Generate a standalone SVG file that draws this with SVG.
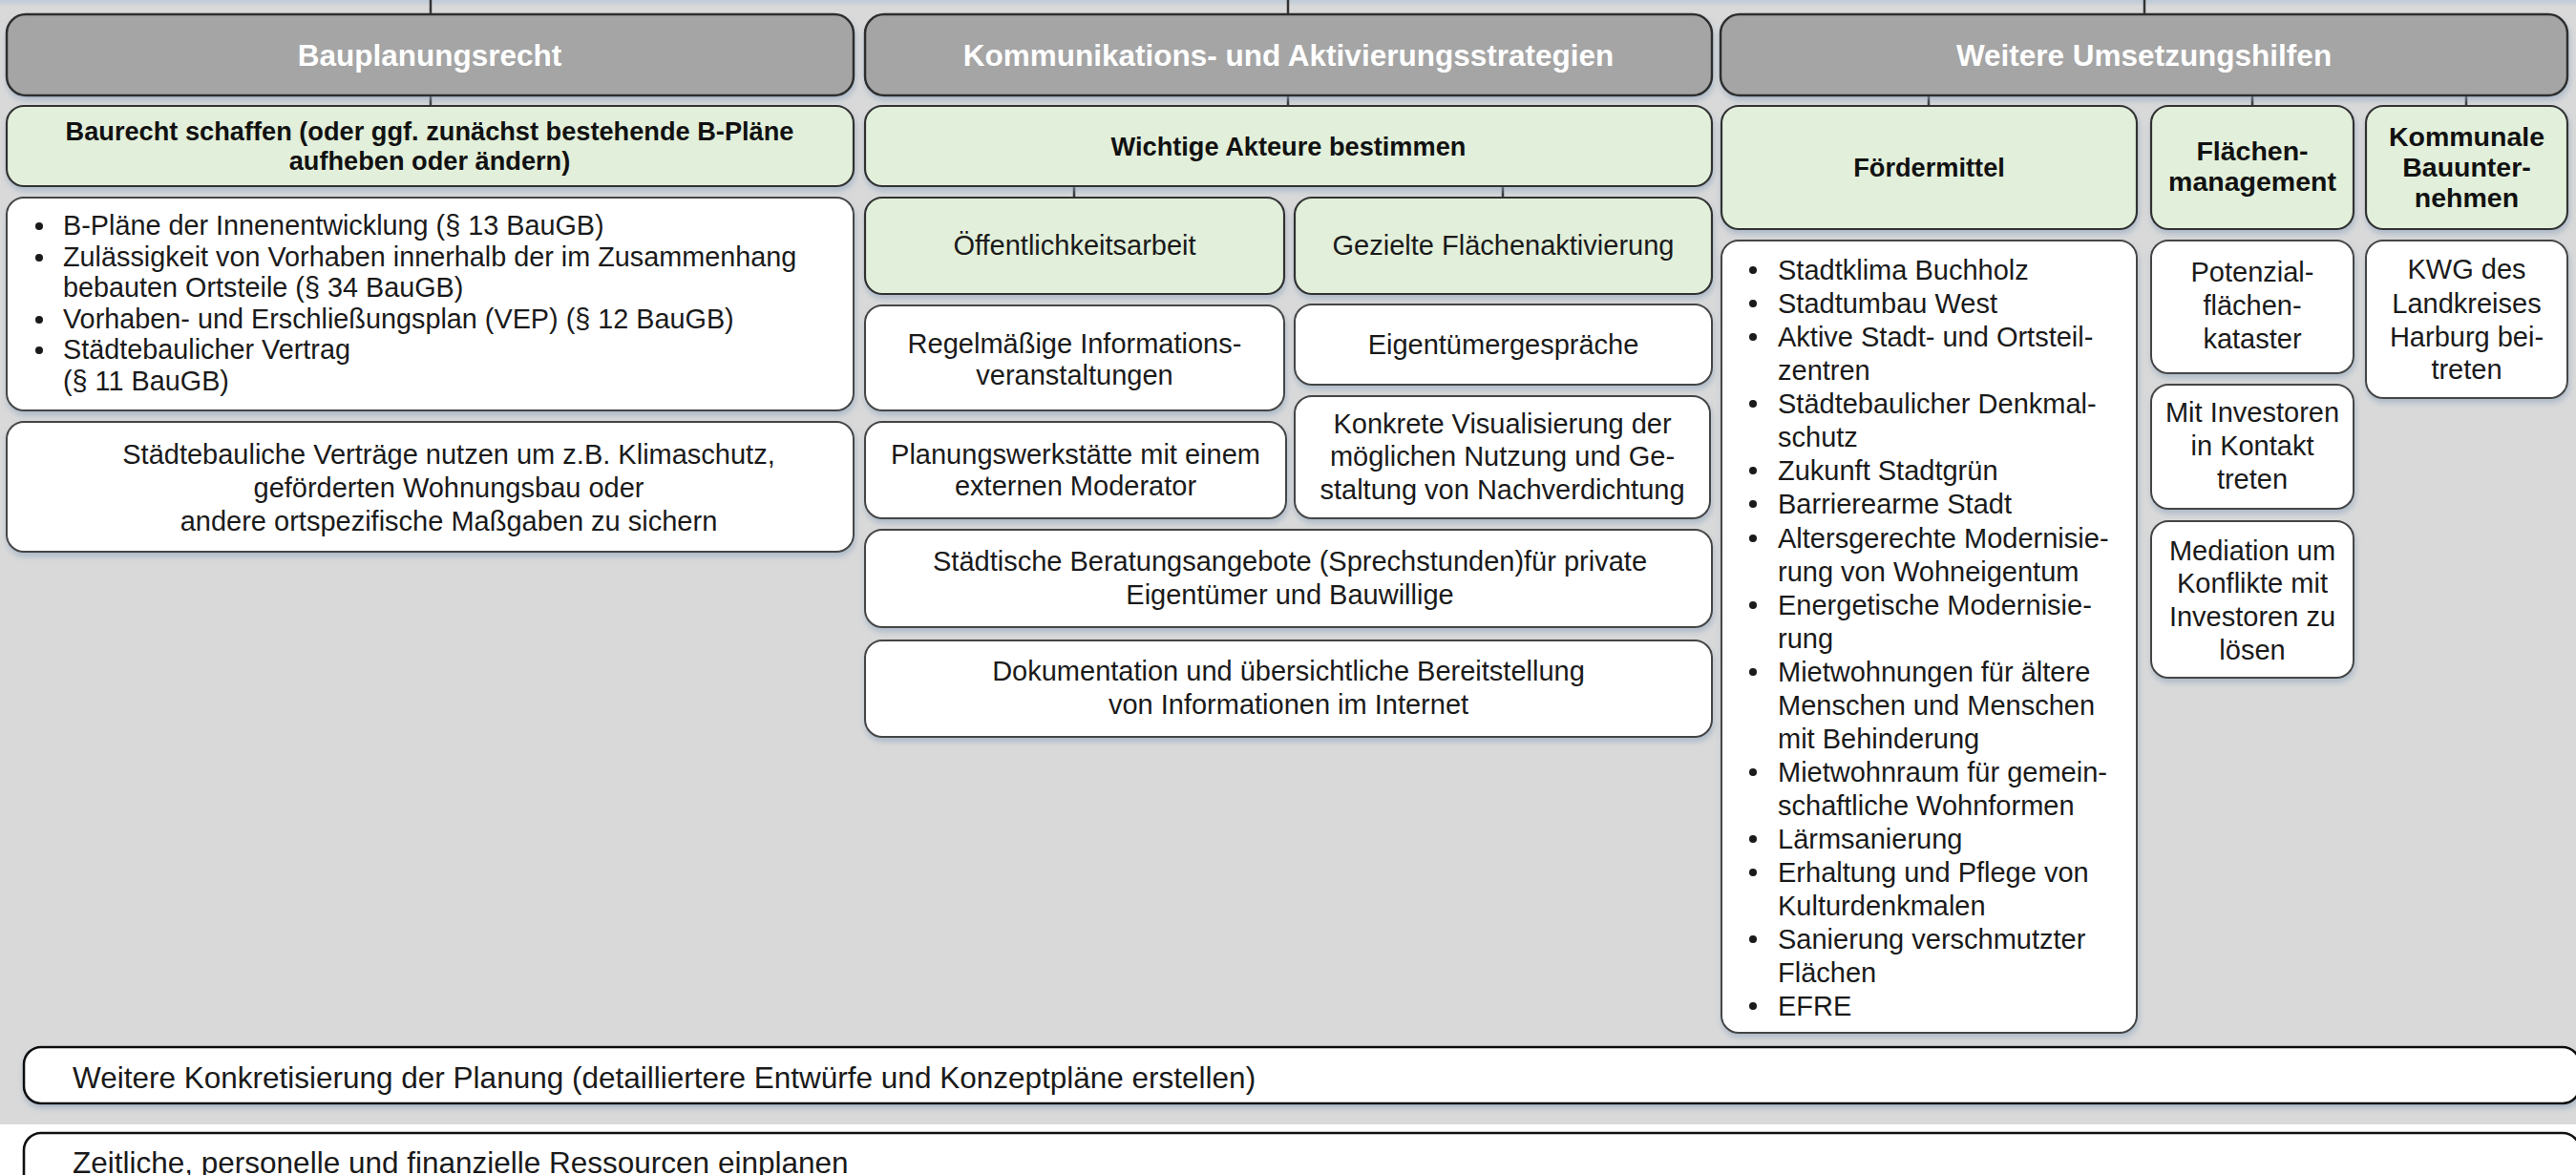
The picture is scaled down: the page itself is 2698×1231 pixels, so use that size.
<svg xmlns="http://www.w3.org/2000/svg" width="2698" height="1231" viewBox="0 0 2698 1231">
<defs>
<filter id="sh" x="-5%" y="-10%" width="110%" height="130%">
<feDropShadow dx="1" dy="4" stdDeviation="3" flood-color="#8ea4bd" flood-opacity="0.6"/>
</filter>
<linearGradient id="topg" x1="0" y1="0" x2="0" y2="1">
<stop offset="0" stop-color="#bccad8"/>
<stop offset="1" stop-color="#d9d9d9"/>
</linearGradient>
<style>
.hdr{fill:#a5a5a5;stroke:#2e2e2e;stroke-width:2.5;filter:url(#sh)}
.grn{fill:#e2efda;stroke:#333;stroke-width:2.2;filter:url(#sh)}
.wht{fill:#fff;stroke:#444;stroke-width:2;filter:url(#sh)}
.blk{fill:#fff;stroke:#111;stroke-width:2.6;filter:url(#sh)}
text{font-family:"Liberation Sans",Arial,sans-serif}
.ht{font-size:31.5px;font-weight:bold;fill:#fff;text-anchor:middle}
.gt{font-size:27.2px;font-weight:bold;fill:#111;text-anchor:middle}
.gm{font-size:28.5px}
.bt{font-size:29px;fill:#1a1a1a}
.bs{font-size:28.8px;fill:#1a1a1a}
.c{text-anchor:middle}
.lt{font-size:31.5px;fill:#1a1a1a}
.con{stroke:#333;stroke-width:2.5;fill:none}
.dot{fill:#1a1a1a}
</style>
</defs>
<rect x="0" y="0" width="2698" height="1178" fill="#d9d9d9"/>
<rect x="0" y="0" width="2698" height="7" fill="url(#topg)"/>
<rect x="0" y="1178" width="2698" height="53" fill="#fff"/>

<g id="connectors">
<path class="con" d="M451 0V15M1349 0V15M2246 0V15"/>
<path class="con" d="M451 100V111M1349 100V111M1125 195V207M1574 195V207M2020 100V111M2359 100V111M2583 100V111"/>
</g>

<g id="h-bauplanungsrecht">
<rect class="hdr" x="7" y="15" width="887" height="85" rx="20"/>
<text class="ht" x="450" y="69">Bauplanungsrecht</text>
</g>
<g id="h-kommunikation">
<rect class="hdr" x="906" y="15" width="887" height="85" rx="20"/>
<text class="ht" x="1349.5" y="69">Kommunikations- und Aktivierungsstrategien</text>
</g>
<g id="h-umsetzungshilfen">
<rect class="hdr" x="1802" y="15" width="887" height="85" rx="20"/>
<text class="ht" x="2245.5" y="69">Weitere Umsetzungshilfen</text>
</g>

<g id="g-baurecht">
<rect class="grn" x="7" y="111" width="887" height="84" rx="18"/>
<text class="gt" x="450" y="147">Baurecht schaffen (oder ggf. zunächst bestehende B-Pläne</text>
<text class="gt" x="450" y="178">aufheben oder ändern)</text>
</g>
<g id="w-bauplan-list">
<rect class="wht" x="7" y="207" width="887" height="223" rx="18"/>
<circle class="dot" cx="41" cy="237" r="4"/>
<circle class="dot" cx="41" cy="270" r="4"/>
<circle class="dot" cx="41" cy="335" r="4"/>
<circle class="dot" cx="41" cy="367" r="4"/>
<text class="bs" x="66" y="246">B-Pläne der Innenentwicklung (§ 13 BauGB)</text>
<text class="bs" x="66" y="279">Zulässigkeit von Vorhaben innerhalb der im Zusammenhang</text>
<text class="bs" x="66" y="311">bebauten Ortsteile (§ 34 BauGB)</text>
<text class="bs" x="66" y="344">Vorhaben- und Erschließungsplan (VEP) (§ 12 BauGB)</text>
<text class="bs" x="66" y="376">Städtebaulicher Vertrag</text>
<text class="bs" x="66" y="409">(§ 11 BauGB)</text>
</g>
<g id="w-vertraege">
<rect class="wht" x="7" y="442" width="887" height="136" rx="18"/>
<text class="bt c" x="470" y="486">Städtebauliche Verträge nutzen um z.B. Klimaschutz,</text>
<text class="bt c" x="470" y="521">geförderten Wohnungsbau oder</text>
<text class="bt c" x="470" y="556">andere ortspezifische Maßgaben zu sichern</text>
</g>

<g id="g-akteure">
<rect class="grn" x="906" y="111" width="887" height="84" rx="18"/>
<text class="gt" x="1349.5" y="163">Wichtige Akteure bestimmen</text>
</g>
<g id="g-oeffentlichkeit">
<rect class="grn" x="906" y="207" width="439" height="101" rx="18"/>
<text class="bt c" x="1125.5" y="267">Öffentlichkeitsarbeit</text>
</g>
<g id="g-flaechenaktivierung">
<rect class="grn" x="1356" y="207" width="437" height="101" rx="18"/>
<text class="bt c" x="1574.5" y="267">Gezielte Flächenaktivierung</text>
</g>
<g id="w-info">
<rect class="wht" x="906" y="320" width="439" height="110" rx="18"/>
<text class="bt c" x="1125.5" y="370">Regelmäßige Informations-</text>
<text class="bt c" x="1125.5" y="403">veranstaltungen</text>
</g>
<g id="w-eigentuemer">
<rect class="wht" x="1356" y="319" width="437" height="84" rx="18"/>
<text class="bt c" x="1574.5" y="371">Eigentümergespräche</text>
</g>
<g id="w-planungswerkstatt">
<rect class="wht" x="906" y="442" width="441" height="101" rx="18"/>
<text class="bt c" x="1126.5" y="486">Planungswerkstätte mit einem</text>
<text class="bt c" x="1126.5" y="519">externen Moderator</text>
</g>
<g id="w-visualisierung">
<rect class="wht" x="1356" y="415" width="435" height="128" rx="18"/>
<text class="bt c" x="1573.5" y="454">Konkrete Visualisierung der</text>
<text class="bt c" x="1573.5" y="488">möglichen Nutzung und Ge-</text>
<text class="bt c" x="1573.5" y="523">staltung von Nachverdichtung</text>
</g>
<g id="w-beratung">
<rect class="wht" x="906" y="555" width="887" height="102" rx="18"/>
<text class="bt c" x="1351" y="598">Städtische Beratungsangebote (Sprechstunden)für private</text>
<text class="bt c" x="1351" y="633">Eigentümer und Bauwillige</text>
</g>
<g id="w-dokumentation">
<rect class="wht" x="906" y="671" width="887" height="101" rx="18"/>
<text class="bt c" x="1349.5" y="713">Dokumentation und übersichtliche Bereitstellung</text>
<text class="bt c" x="1349.5" y="748">von Informationen im Internet</text>
</g>

<g id="g-foerdermittel">
<rect class="grn" x="1803" y="111" width="435" height="129" rx="18"/>
<text class="gt" x="2020.5" y="185">Fördermittel</text>
</g>
<g id="g-flaechenmanagement">
<rect class="grn" x="2253" y="111" width="212" height="129" rx="18"/>
<text class="gt gm" x="2359" y="168">Flächen-</text>
<text class="gt gm" x="2359" y="200">management</text>
</g>
<g id="g-kommunale">
<rect class="grn" x="2478" y="111" width="211" height="129" rx="18"/>
<text class="gt gm" x="2583.5" y="153">Kommunale</text>
<text class="gt gm" x="2583.5" y="185">Bauunter-</text>
<text class="gt gm" x="2583.5" y="217">nehmen</text>
</g>
<g id="w-foerder-list">
<rect class="wht" x="1803" y="252" width="435" height="830" rx="18"/>
<g class="dot">
<circle cx="1836" cy="283" r="4"/>
<circle cx="1836" cy="318" r="4"/>
<circle cx="1836" cy="353" r="4"/>
<circle cx="1836" cy="423" r="4"/>
<circle cx="1836" cy="493" r="4"/>
<circle cx="1836" cy="528" r="4"/>
<circle cx="1836" cy="564" r="4"/>
<circle cx="1836" cy="634" r="4"/>
<circle cx="1836" cy="704" r="4"/>
<circle cx="1836" cy="809" r="4"/>
<circle cx="1836" cy="879" r="4"/>
<circle cx="1836" cy="914" r="4"/>
<circle cx="1836" cy="984" r="4"/>
<circle cx="1836" cy="1054" r="4"/>
</g>
<text class="bt" x="1862" y="293">Stadtklima Buchholz</text>
<text class="bt" x="1862" y="328">Stadtumbau West</text>
<text class="bt" x="1862" y="363">Aktive Stadt- und Ortsteil-</text>
<text class="bt" x="1862" y="398">zentren</text>
<text class="bt" x="1862" y="433">Städtebaulicher Denkmal-</text>
<text class="bt" x="1862" y="468">schutz</text>
<text class="bt" x="1862" y="503">Zukunft Stadtgrün</text>
<text class="bt" x="1862" y="538">Barrierearme Stadt</text>
<text class="bt" x="1862" y="574">Altersgerechte Modernisie-</text>
<text class="bt" x="1862" y="609">rung von Wohneigentum</text>
<text class="bt" x="1862" y="644">Energetische Modernisie-</text>
<text class="bt" x="1862" y="679">rung</text>
<text class="bt" x="1862" y="714">Mietwohnungen für ältere</text>
<text class="bt" x="1862" y="749">Menschen und Menschen</text>
<text class="bt" x="1862" y="784">mit Behinderung</text>
<text class="bt" x="1862" y="819">Mietwohnraum für gemein-</text>
<text class="bt" x="1862" y="854">schaftliche Wohnformen</text>
<text class="bt" x="1862" y="889">Lärmsanierung</text>
<text class="bt" x="1862" y="924">Erhaltung und Pflege von</text>
<text class="bt" x="1862" y="959">Kulturdenkmalen</text>
<text class="bt" x="1862" y="994">Sanierung verschmutzter</text>
<text class="bt" x="1862" y="1029">Flächen</text>
<text class="bt" x="1862" y="1064">EFRE</text>
</g>
<g id="w-potenzial">
<rect class="wht" x="2253" y="252" width="212" height="139" rx="18"/>
<text class="bt c" x="2359" y="295">Potenzial-</text>
<text class="bt c" x="2359" y="330">flächen-</text>
<text class="bt c" x="2359" y="365">kataster</text>
</g>
<g id="w-investoren">
<rect class="wht" x="2253" y="403" width="212" height="130" rx="18"/>
<text class="bt c" x="2359" y="442">Mit Investoren</text>
<text class="bt c" x="2359" y="477">in Kontakt</text>
<text class="bt c" x="2359" y="512">treten</text>
</g>
<g id="w-mediation">
<rect class="wht" x="2253" y="546" width="212" height="164" rx="18"/>
<text class="bt c" x="2359" y="587">Mediation um</text>
<text class="bt c" x="2359" y="621">Konflikte mit</text>
<text class="bt c" x="2359" y="656">Investoren zu</text>
<text class="bt c" x="2359" y="691">lösen</text>
</g>
<g id="w-kwg">
<rect class="wht" x="2478" y="252" width="211" height="165" rx="18"/>
<text class="bt c" x="2583.5" y="292">KWG des</text>
<text class="bt c" x="2583.5" y="328">Landkreises</text>
<text class="bt c" x="2583.5" y="363">Harburg bei-</text>
<text class="bt c" x="2583.5" y="397">treten</text>
</g>

<g id="b-konkretisierung">
<rect class="blk" x="25" y="1097" width="2677" height="59" rx="18"/>
<text class="lt" x="76" y="1140">Weitere Konkretisierung der Planung (detailliertere Entwürfe und Konzeptpläne erstellen)</text>
</g>
<g id="b-ressourcen">
<rect fill="#fff" stroke="#111" stroke-width="2.6" x="25" y="1187" width="2677" height="90" rx="18"/>
<text class="lt" x="76" y="1229">Zeitliche, personelle und finanzielle Ressourcen einplanen</text>
</g>
</svg>
